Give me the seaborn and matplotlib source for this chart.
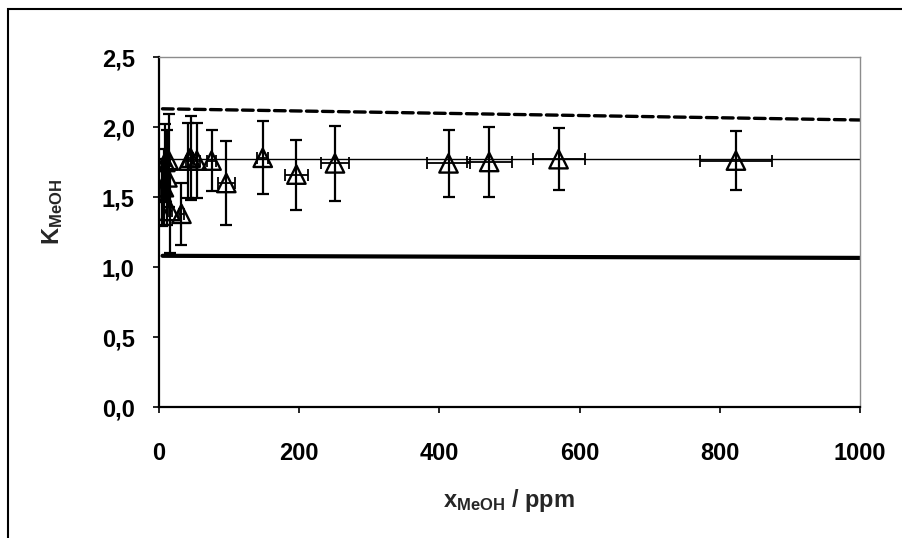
import matplotlib
matplotlib.use("Agg")
import matplotlib.pyplot as plt
import matplotlib.patches as mpatches
from matplotlib.ticker import FuncFormatter, MultipleLocator
import seaborn as sns
import pandas as pd

# ---- data ----
x_ppm = [4, 7, 9, 12, 14, 16, 32, 42, 45, 54, 75, 96, 148, 196, 251, 413, 471, 570, 823]
k_vals = [1.53, 1.57, 1.75, 1.64, 1.76, 1.40, 1.38, 1.76, 1.78, 1.76, 1.76, 1.60, 1.78,
          1.66, 1.74, 1.74, 1.75, 1.77, 1.76]
k_err = [0.24, 0.27, 0.27, 0.34, 0.33, 0.30, 0.22, 0.27, 0.30, 0.27, 0.22, 0.30, 0.26,
         0.25, 0.27, 0.24, 0.25, 0.22, 0.21]
x_err = [0.5, 1, 1, 1, 1.5, 2, 3, 4, 4, 5, 7, 12, 8, 16, 20, 31, 32, 37, 51]

model_x = [5, 1000]
model_upper = [2.13, 2.05]
model_lower = [1.08, 1.065]
mean_x = [0, 1000]
mean_k = [1.77, 1.77]

x_ticks = [0, 200, 400, 600, 800, 1000]
y_ticks = [0.0, 0.5, 1.0, 1.5, 2.0, 2.5]

df = pd.DataFrame({"x": x_ppm, "k": k_vals, "kerr": k_err, "xerr": x_err})

# ---- style ----
sns.set_style("ticks")
plt.rcParams["font.family"] = ["Liberation Sans", "DejaVu Sans"]
plt.rcParams["font.weight"] = "bold"
plt.rcParams["mathtext.fontset"] = "custom"
plt.rcParams["mathtext.bf"] = "Liberation Sans:bold"
plt.rcParams["mathtext.rm"] = "Liberation Sans:bold"
plt.rcParams["mathtext.it"] = "Liberation Sans:bold"

W, H = 903, 538
fig = plt.figure(figsize=(W / 100, H / 100), dpi=100)
fig.patch.set_facecolor("white")
ax = fig.add_axes([159 / W, (H - 407) / H, (860 - 159) / W, (407 - 57) / H])

# model / reference lines
sns.lineplot(x=model_x, y=model_upper, ax=ax, color="black", lw=2.4,
             linestyle=(0, (3.2, 1.6)), dash_capstyle="round")
sns.lineplot(x=mean_x, y=mean_k, ax=ax, color="black", lw=1.0)
sns.lineplot(x=model_x, y=model_lower, ax=ax, color="black", lw=3.0)

# error bars
ax.errorbar(df["x"], df["k"], yerr=df["kerr"], fmt="none", ecolor="black",
            elinewidth=1.6, capsize=4.5, capthick=1.6, zorder=3)
ax.errorbar(df["x"], df["k"], xerr=df["xerr"], fmt="none", ecolor="black",
            elinewidth=1.3, capsize=4.5, capthick=1.3, zorder=3)

# open triangles
sns.scatterplot(data=df, x="x", y="k", ax=ax, marker="^", s=175,
                facecolor="none", edgecolor="black", linewidth=1.7, zorder=4)

ax.set_xlim(0, 1000)
ax.set_ylim(0, 2.5)
ax.xaxis.set_major_locator(plt.FixedLocator(x_ticks))
ax.yaxis.set_major_locator(plt.FixedLocator(y_ticks))
ax.yaxis.set_major_formatter(FuncFormatter(lambda v, p: f"{v:.1f}".replace(".", ",")))
ax.xaxis.set_major_formatter(FuncFormatter(lambda v, p: f"{int(v)}"))
ax.set_xlabel("")
ax.set_ylabel("")

for s in ["top", "right"]:
    ax.spines[s].set_visible(True)
    ax.spines[s].set_color("#8c8c8c")
    ax.spines[s].set_linewidth(1.0)
for s in ["left", "bottom"]:
    ax.spines[s].set_color("black")
    ax.spines[s].set_linewidth(1.6)

ax.tick_params(axis="both", direction="out", length=4.5, width=1.2, colors="black",
               labelsize=17)
ax.tick_params(axis="y", pad=13)
ax.tick_params(axis="x", pad=21)
for lab in ax.get_xticklabels() + ax.get_yticklabels():
    lab.set_fontweight("bold")

fig.text(509 / W, 1 - 500 / H, r"$\mathbf{x}_{\mathbf{MeOH}}$ / ppm", ha="center",
         va="center", fontsize=17, fontweight="bold")
fig.text(53 / W, 1 - 212 / H, r"$\mathbf{K}_{\mathbf{MeOH}}$", ha="center",
         va="center", fontsize=17, fontweight="bold", rotation=90)

# outer chart frame (open at right/bottom edges)
frame = mpatches.Rectangle((8 / W, -0.05), 1.2, (H - 9) / H + 0.05,
                           transform=fig.transFigure, fill=False,
                           edgecolor="black", linewidth=1.5)
fig.patches.append(frame)

fig.savefig("out.png", dpi=100)
